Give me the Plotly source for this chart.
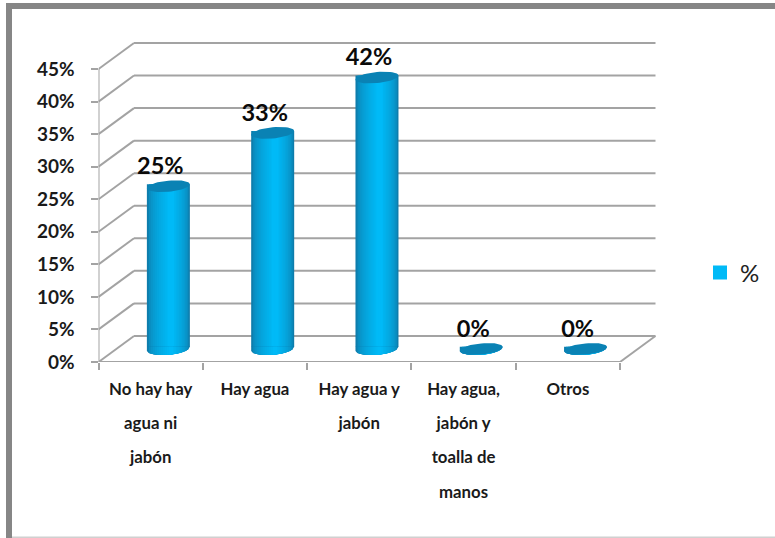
import math
import plotly.graph_objects as go

categories = [["No hay hay", "agua ni", "jabón"], ["Hay agua"], ["Hay agua y", "jabón"],
              ["Hay agua,", "jabón y", "toalla de", "manos"], ["Otros"]]
values = [25, 33.2, 41.7, 0, 0]
labels = ["25%", "33%", "42%", "0%", "0%"]
y_ticks = [0, 5, 10, 15, 20, 25, 30, 35, 40, 45]

W, H = 775, 538
L, R, T, B = 98.5, 656.0, 42.0, 362.0
PX_X = 104.3           # pixels per category
PX_Y = 6.51            # pixels per percent
DX, DY = 35.5 / PX_X, 4.0   # depth of the pseudo-3D box, in data units
BAR_OFF = 0.67         # bar centre inside each category slot
BAR_BASE = 2.0         # the bar stands half way into the floor
A = 21.5 / PX_X        # ellipse half width
EB = 5.6 / PX_Y        # ellipse half height
SK = 0.09 * PX_X / PX_Y  # tilt of the ellipse
GRID = "#A3A3A3"
FONT = "Lato"
CAT_SIZE = 16.8
LINE_SIZE = 26.5       # sets the wide line spacing of the category labels

xs = [i + BAR_OFF for i in range(len(values))]
DARK, BRIGHT = (14, 125, 172), (0, 186, 247)


def mix(t):
    return "rgb(%d,%d,%d)" % tuple(round(d + (b - d) * t) for d, b in zip(DARK, BRIGHT))


fig = go.Figure()

# Cylinder bodies: nested overlay bars produce the horizontal shading.
N = 12
levels = [k / (N - 1) for k in range(N)]
SHADE = 0.55
for k, t in enumerate(levels):
    half = A * (1 - t * 0.9)
    shift = 0.012 * t * 2
    last = k == N - 1
    col = mix(t ** SHADE)
    fig.add_trace(go.Bar(
        x=[x + shift for x in xs],
        y=values,
        base=[BAR_BASE + SK * A] * len(values),
        width=[2 * half] * len(values),
        marker=dict(color=col, line=dict(width=2 if last else 0, color=col)),
        name="%", showlegend=last, hoverinfo="skip",
    ))

# Rounded bottoms of the cylinders, following the same shading.
for k, t in enumerate(levels):
    half = A * (1 - t * 0.9)
    shift = 0.012 * t * 2
    cx, cy = [], []
    for x in xs:
        cx += [x + shift - half]
        cy += [BAR_BASE + SK * A + 0.05]
        for j in range(25):
            u = -half + 2 * half * j / 24
            cx.append(x + shift + u)
            cy.append(BAR_BASE + SK * u - EB * math.sqrt(max(0, 1 - (u / A) ** 2)))
        cx += [x + shift + half, x + shift - half, None]
        cy += [BAR_BASE + SK * A + 0.05, BAR_BASE + SK * A + 0.05, None]
    fig.add_trace(go.Scatter(x=cx, y=cy, mode="lines", fill="toself", line=dict(width=0),
                             fillcolor=mix(t ** SHADE), showlegend=False, hoverinfo="skip"))

# Top ellipses.
tx, ty = [], []
for x, v in zip(xs, values):
    for j in range(49):
        a = 2 * math.pi * j / 48
        u = A * math.cos(a)
        tx.append(x + u)
        ty.append(BAR_BASE + v + SK * u + EB * math.sin(a))
    tx.append(None)
    ty.append(None)
fig.add_trace(go.Scatter(x=tx, y=ty, mode="lines", fill="toself", line=dict(width=0),
                         fillcolor="#0A82B4", showlegend=False, hoverinfo="skip"))

# Value labels.
fig.add_trace(go.Scatter(
    x=[x - 8 / PX_X for x in xs],
    y=[v + BAR_BASE + 18 / PX_Y for v in values],
    text=labels, mode="text", textposition="middle center",
    textfont=dict(family=FONT, size=23.5, color="#0A0A0A", weight="bold"),
    showlegend=False, hoverinfo="skip",
))

n = len(values)
shapes = []


def seg(x0, y0, x1, y1, color=GRID, width=2):
    shapes.append(dict(type="line", xref="x", yref="y", x0=x0, y0=y0, x1=x1, y1=y1,
                       layer="below", line=dict(color=color, width=width)))


for v in y_ticks:
    seg(0, v, DX, v + DY)
    seg(DX, v + DY, n + DX, v + DY)
seg(0, 0, 0, y_ticks[-1])
seg(0, 0, n, 0)
seg(n, 0, n + DX, DY)


def frame(x0, y0, x1, y1, color):
    shapes.append(dict(type="rect", xref="paper", yref="paper",
                       x0=x0 / W, x1=x1 / W, y0=1 - y0 / H, y1=1 - y1 / H,
                       fillcolor=color, line=dict(width=0), layer="below"))


frame(6, 3, 775, 9, "#868686")
frame(6, 3, 12, 538, "#868686")
frame(12, 536.5, 775, 538, "#D0D0D0")

tick_text = ["<br>".join(f'<span style="font-size:{CAT_SIZE}px">{s}</span>' for s in lines)
             for lines in categories]

fig.update_layout(
    width=W, height=H, autosize=False,
    margin=dict(l=0, r=0, t=0, b=0),
    paper_bgcolor="white", plot_bgcolor="rgba(0,0,0,0)",
    barmode="overlay", shapes=shapes,
    font=dict(family=FONT, color="#1A1A1A"),
    xaxis=dict(
        domain=[L / W, R / W], range=[0, (R - L) / PX_X],
        tickmode="array", tickvals=[i + 0.5 for i in range(n)], ticktext=tick_text,
        ticks="", showgrid=False, zeroline=False, showline=False,
        tickangle=0, automargin=False, ticklabelstandoff=5,
        tickfont=dict(family=FONT, size=LINE_SIZE, color="#1A1A1A", weight="bold"),
        minor=dict(tickmode="array", tickvals=list(range(n + 1)), ticks="outside",
                   ticklen=7, tickwidth=2, tickcolor=GRID, showgrid=False),
    ),
    yaxis=dict(
        domain=[1 - B / H, 1 - T / H], range=[0, (B - T) / PX_Y],
        tickmode="array", tickvals=y_ticks, ticktext=[f"{v}%" for v in y_ticks],
        ticks="outside", ticklen=7, tickwidth=2, tickcolor=GRID,
        showgrid=False, zeroline=False, showline=False, automargin=False,
        ticklabelstandoff=12,
        tickfont=dict(family=FONT, size=19, color="#1A1A1A", weight="bold"),
    ),
    legend=dict(x=700 / W, y=1 - 273 / H, xanchor="left", yanchor="middle",
                bgcolor="rgba(0,0,0,0)", itemsizing="constant",
                font=dict(family=FONT, size=24, color="#222222")),
)

fig.write_html("out.html", config={"displayModeBar": False},
               post_script="document.body.style.margin='0';")
